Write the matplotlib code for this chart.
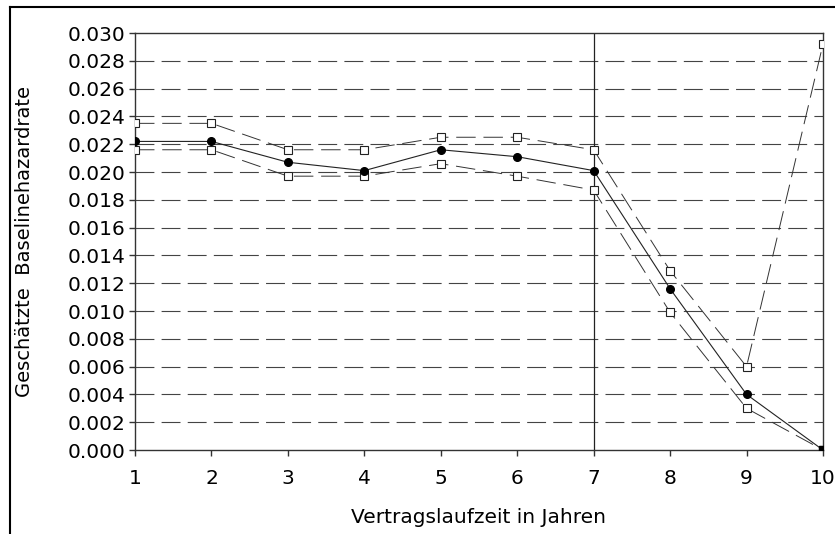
import matplotlib
matplotlib.use("Agg")
import matplotlib.pyplot as plt
from matplotlib.lines import Line2D

plt.rcParams["font.family"] = ["DejaVu Sans"]

# Vertragslaufzeit (Jahre)
years = [1, 2, 3, 4, 5, 6, 7, 8, 9, 10]
# geschaetzte Baselinehazardrate mit oberer/unterer Grenze
hazard = [0.0222, 0.0222, 0.0207, 0.0201, 0.0216, 0.0211, 0.0201, 0.0116, 0.0040, 0.0000]
upper = [0.0235, 0.0235, 0.0216, 0.0216, 0.0225, 0.0225, 0.0216, 0.0129, 0.0060, 0.0292]
lower = [0.0216, 0.0216, 0.0197, 0.0197, 0.0206, 0.0197, 0.0187, 0.0099, 0.0030, 0.0000]
yticks = [i * 0.002 for i in range(16)]

fig = plt.figure(figsize=(8.35, 5.34), dpi=100)
ax = fig.add_axes([0.1617, 0.1573, 0.9856 - 0.1617, 0.9382 - 0.1573])

for yv in yticks[1:-1]:
    ax.axhline(yv, color="#444444", lw=0.8, ls=(0, (17, 6.5)), zorder=1)
ax.axvline(7, color="#222222", lw=0.9, zorder=1)

dash = (0, (20, 8))
for band in (upper, lower):
    ax.plot(years, band, color="#333333", lw=0.7, ls=dash, marker="s", ms=5.5,
            mfc="white", mec="#222222", mew=0.8, zorder=3)
ax.plot(years, hazard, color="#222222", lw=0.8, marker="o", ms=5.5,
        mfc="black", mec="black", zorder=4)
ax.plot([10], [0.0], marker="s", ms=5.5, color="black", ls="none", zorder=5)

ax.set_xlim(1, 10)
ax.set_ylim(0, 0.030)
ax.set_xticks(years)
ax.set_yticks(yticks)
ax.set_yticklabels([f"{v:.3f}" for v in yticks])
ax.tick_params(direction="out", length=4, width=1, labelsize=14.5, color="#333333")
ax.tick_params(axis="x", pad=10)
ax.tick_params(axis="y", pad=3)
for s in ax.spines.values():
    s.set_color("#333333")
    s.set_linewidth(1.0)

ax.set_xlabel("Vertragslaufzeit in Jahren", fontsize=14.5, labelpad=14)
ax.set_ylabel("Geschätzte  Baselinehazardrate", fontsize=14, labelpad=24)

# Rahmen oben und links
fig.add_artist(Line2D([10 / 835, 1], [1 - 7 / 534, 1 - 7 / 534], color="black", lw=1.5,
                      transform=fig.transFigure))
fig.add_artist(Line2D([10 / 835, 10 / 835], [0, 1 - 7 / 534], color="black", lw=1.5,
                      transform=fig.transFigure))

fig.savefig("out.png", dpi=100)
